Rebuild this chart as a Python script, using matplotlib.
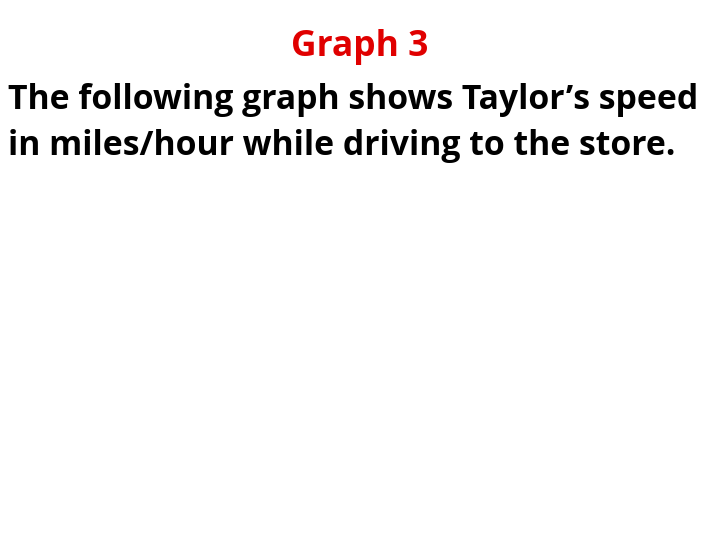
import matplotlib.pyplot as plt

# Slide text (the reference contains no plotted data)
title = "Graph 3"
body_lines = [
    "The following graph shows Taylor\u2019s speed",
    "in miles/hour while driving to the store.",
]

fig = plt.figure(figsize=(7.2, 5.4), dpi=100)
fig.patch.set_facecolor("white")

fig.text(0.5, 1 - 47 / 540, title, color="#e00000", fontsize=25.5,
         fontweight="bold", family="Open Sans", ha="center", va="center")

for i, line in enumerate(body_lines):
    fig.text(8 / 720, 1 - (100 + i * 46) / 540, line, color="black",
             fontsize=24.3, fontweight="bold", family="Open Sans",
             ha="left", va="center")

fig.savefig("out.png", dpi=100)
